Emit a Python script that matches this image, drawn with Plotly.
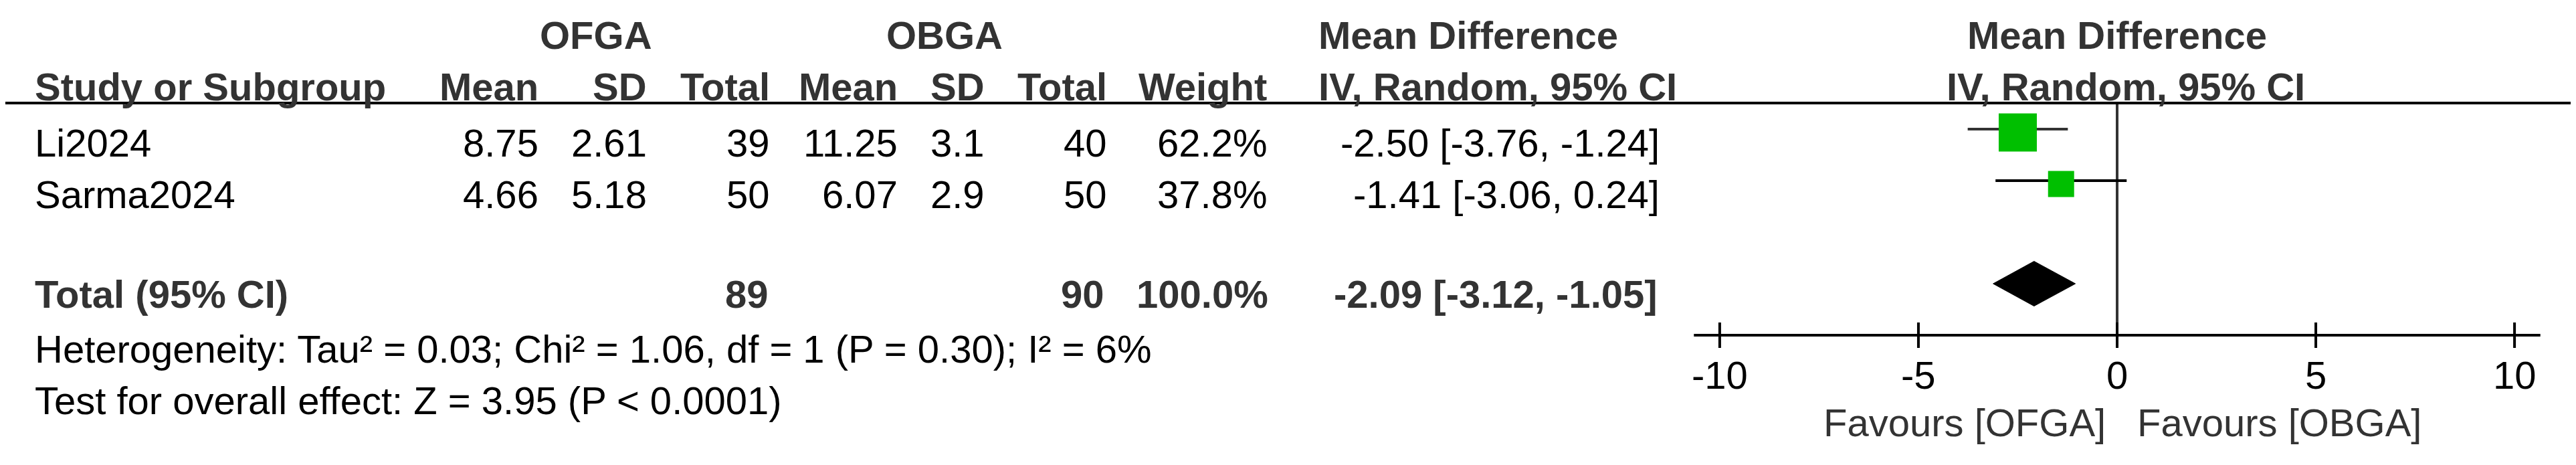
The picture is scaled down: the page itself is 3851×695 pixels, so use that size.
import plotly.graph_objects as go

# study level data
studies = ["Li2024", "Sarma2024"]
ofga_mean = [8.75, 4.66]
ofga_sd = [2.61, 5.18]
ofga_n = [39, 50]
obga_mean = [11.25, 6.07]
obga_sd = [3.1, 2.9]
obga_n = [40, 50]
weight = [62.2, 37.8]
md = [-2.50, -1.41]
md_lo = [-3.76, -3.06]
md_hi = [-1.24, 0.24]

# pooled result
total_md = -2.09
total_lo = -3.12
total_hi = -1.05

ticks = [-10, -5, 0, 5, 10]
heterogeneity = "Heterogeneity: Tau² = 0.03; Chi² = 1.06, df = 1 (P = 0.30); I² = 6%"
overall = "Test for overall effect: Z = 3.95 (P < 0.0001)"
favours = ["Favours [OFGA]", "Favours [OBGA]"]

# layout (page pixels)
W, H = 3851, 695
OFF = 8         # default body margin of the html page
ROW0 = 193      # y of first study row
ROW_H = 77      # row spacing
ZERO_PX = 3165  # x of md = 0
UNIT_PX = 59.41 # pixels per unit of md
FONT = "Arial, Liberation Sans, sans-serif"
FS = 58
GREY = "#333333"

# right edges of the table columns
col_right = [806, 968, 1152, 1343, 1473, 1656, 1895, 2482]
left_x = 51
md_hdr_x = 1970

annotations = []


def txt(x, y, s, anchor="right", bold=False, color="black", xref="x"):
    annotations.append(dict(
        x=x, y=y, xref=xref, yref="y", text=f"<b>{s}</b>" if bold else s,
        showarrow=False, xanchor=anchor, yanchor="middle", borderpad=0,
        font=dict(size=FS, color=color, family=FONT)))


# headers
hdr1, hdr2 = -1.83, -0.82
txt(891, hdr1, "OFGA", "center", True, GREY)
txt(1412, hdr1, "OBGA", "center", True, GREY)
txt(md_hdr_x, hdr1, "Mean Difference", "left", True, GREY)
txt(ZERO_PX, hdr1, "Mean Difference", "center", True, GREY)
txt(left_x, hdr2, "Study or Subgroup", "left", True, GREY)
for x, s in zip(col_right[:7], ["Mean", "SD", "Total", "Mean", "SD", "Total", "Weight"]):
    txt(x, hdr2, s, "right", True, GREY)
txt(md_hdr_x, hdr2, "IV, Random, 95% CI", "left", True, GREY)
txt(3178, hdr2, "IV, Random, 95% CI", "center", True, GREY)

# study rows
for i, name in enumerate(studies):
    y = i + 0.27
    txt(left_x, y, name, "left")
    cells = [str(ofga_mean[i]), str(ofga_sd[i]), str(ofga_n[i]),
             str(obga_mean[i]), str(obga_sd[i]), str(obga_n[i]),
             f"{weight[i]:.1f}%",
             f"{md[i]:.2f} [{md_lo[i]:.2f}, {md_hi[i]:.2f}]"]
    for x, s in zip(col_right, cells):
        txt(x, y, s)

# total row
tot_row = 3
y = tot_row + 0.2
txt(left_x, y, "Total (95% CI)", "left", True, GREY)
txt(col_right[2] - 2, y, str(sum(ofga_n)), "right", True, GREY)
txt(col_right[5] - 4, y, str(sum(obga_n)), "right", True, GREY)
txt(col_right[6] + 2, y, f"{sum(weight):.1f}%", "right", True, GREY)
txt(col_right[7] - 3, y, f"{total_md:.2f} [{total_lo:.2f}, {total_hi:.2f}]", "right", True, GREY)

txt(left_x, 4.27, heterogeneity, "left")
txt(left_x, 5.26, overall, "left")

# axis labels
axis_row = 4
for t in ticks:
    txt(t, 4.77, str(t), "center", xref="x2")
txt(3149, 5.69, favours[0], "right", color=GREY)
txt(3194, 5.69, favours[1], "left", color=GREY)

fig = go.Figure()

# zero line
fig.add_trace(go.Scatter(x=[0, 0], y=[-0.5065, axis_row], mode="lines",
                         line=dict(color=GREY, width=4), xaxis="x2"))

# confidence intervals
ci_colors = [GREY, "black"]
for i in range(len(studies)):
    fig.add_trace(go.Scatter(x=[md_lo[i], md_hi[i]], y=[i, i], mode="lines",
                             line=dict(color=ci_colors[i], width=4), xaxis="x2"))

# weighted squares
fig.add_trace(go.Scatter(
    x=md, y=[i + 0.065 for i in range(len(studies))], mode="markers", xaxis="x2",
    marker=dict(symbol="square", color="#00BF00", opacity=1, line=dict(width=0),
                size=[11 + 0.74 * w for w in weight])))

# pooled diamond
dh = 0.435
fig.add_trace(go.Scatter(
    x=[total_lo, total_md, total_hi, total_md, total_lo],
    y=[tot_row, tot_row - dh, tot_row, tot_row + dh, tot_row],
    mode="lines", fill="toself", fillcolor="black",
    line=dict(color="black", width=1), xaxis="x2"))

# axis line and ticks
fig.add_trace(go.Scatter(x=[ticks[0] - 0.65, ticks[-1] + 0.65], y=[axis_row, axis_row],
                         mode="lines", line=dict(color="black", width=4), xaxis="x2"))
tx, ty = [], []
for t in ticks:
    tx += [t, t, None]
    ty += [axis_row - 0.247, axis_row + 0.247, None]
fig.add_trace(go.Scatter(x=tx, y=ty, mode="lines",
                         line=dict(color="black", width=4), xaxis="x2"))

fig.update_layout(
    width=W, height=H,
    margin=dict(l=0, r=0, t=0, b=0),
    paper_bgcolor="white", plot_bgcolor="white",
    showlegend=False, hovermode=False,
    xaxis=dict(range=[OFF, W + OFF], visible=False, fixedrange=True),
    xaxis2=dict(range=[(OFF - ZERO_PX) / UNIT_PX, (W + OFF - ZERO_PX) / UNIT_PX],
                overlaying="x", visible=False, fixedrange=True),
    yaxis=dict(range=[(H + OFF - ROW0) / ROW_H, (OFF - ROW0) / ROW_H],
               visible=False, fixedrange=True),
    annotations=annotations,
    shapes=[dict(type="line", xref="paper", yref="y", x0=0, x1=1,
                 y0=-0.5065, y1=-0.5065, line=dict(color="black", width=4))],
)

fig.write_html("out.html")
